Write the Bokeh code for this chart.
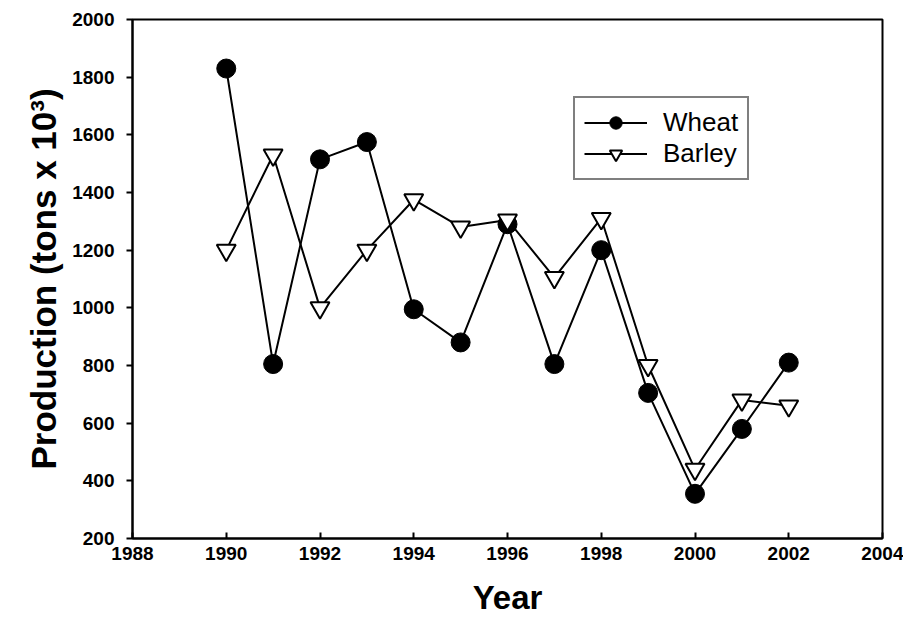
from bokeh.plotting import figure
from bokeh.models import Range1d, FixedTicker, Legend, LegendItem
from bokeh.embed import file_html
from bokeh.resources import INLINE

years = [1990, 1991, 1992, 1993, 1994, 1995, 1996, 1997, 1998, 1999, 2000, 2001, 2002]
wheat = [1830, 805, 1515, 1575, 995, 880, 1290, 805, 1200, 705, 355, 580, 810]
barley = [1200, 1530, 1000, 1200, 1375, 1280, 1305, 1105, 1310, 800, 440, 680, 660]
x_ticks = [1988, 1990, 1992, 1994, 1996, 1998, 2000, 2002, 2004]
y_ticks = [200, 400, 600, 800, 1000, 1200, 1400, 1600, 1800, 2000]

FONT = "Liberation Sans"

p = figure(width=903, height=618, output_backend="svg", toolbar_location=None,
           x_range=Range1d(1988, 2004), y_range=Range1d(200, 2000),
           min_border_left=132, min_border_top=19, min_border_right=21, min_border_bottom=76)

p.grid.visible = False
p.outline_line_color = "black"
p.outline_line_width = 2
p.background_fill_color = "white"
p.border_fill_color = "white"

lw = p.line(years, wheat, line_color="black", line_width=2)
cw = p.scatter(years, wheat, marker="circle", size=19, fill_color="black", line_color="black")
lb = p.line(years, barley, line_color="black", line_width=2)
cb = p.scatter(years, barley, marker="inverted_triangle", size=19, fill_color="white",
               line_color="black", line_width=2)

p.xaxis.ticker = FixedTicker(ticks=x_ticks)
p.yaxis.ticker = FixedTicker(ticks=y_ticks)
for ax in (p.xaxis[0], p.yaxis[0]):
    ax.axis_line_width = 2
    ax.major_tick_line_width = 2
    ax.minor_tick_line_color = None
    ax.major_label_text_font = FONT
    ax.major_label_text_font_style = "bold"
    ax.major_label_text_font_size = "19px"
    ax.major_label_text_color = "black"
    ax.axis_label_text_font = FONT
    ax.axis_label_text_font_style = "bold"
    ax.axis_label_text_color = "black"

p.xaxis.axis_label_text_font_size = "33px"
p.yaxis.axis_label_text_font_size = "35px"
p.xaxis.major_tick_in = 6
p.xaxis.major_tick_out = 0
p.yaxis.major_tick_in = 0
p.yaxis.major_tick_out = 6
p.xaxis.major_label_standoff = 8
p.yaxis.major_label_standoff = 12
p.xaxis.axis_label = "Year"
p.yaxis.axis_label = "Production (tons x 10³)"
p.xaxis.axis_label_standoff = 16
p.yaxis.axis_label_standoff = 6

legend = Legend(items=[LegendItem(label="Wheat", renderers=[lw, cw]),
                       LegendItem(label="Barley", renderers=[lb, cb])],
                location=(441, 358))
legend.label_text_font = FONT
legend.label_text_font_size = "26px"
legend.label_text_color = "black"
legend.border_line_color = "black"
legend.border_line_width = 2
legend.glyph_width = 63
legend.glyph_height = 31
legend.label_height = 20
legend.spacing = 0
legend.padding = 9
legend.label_standoff = 16
legend.margin = 0
legend.background_fill_alpha = 1
p.add_layout(legend, "center")

open("out.html", "w").write(file_html(p, INLINE))
